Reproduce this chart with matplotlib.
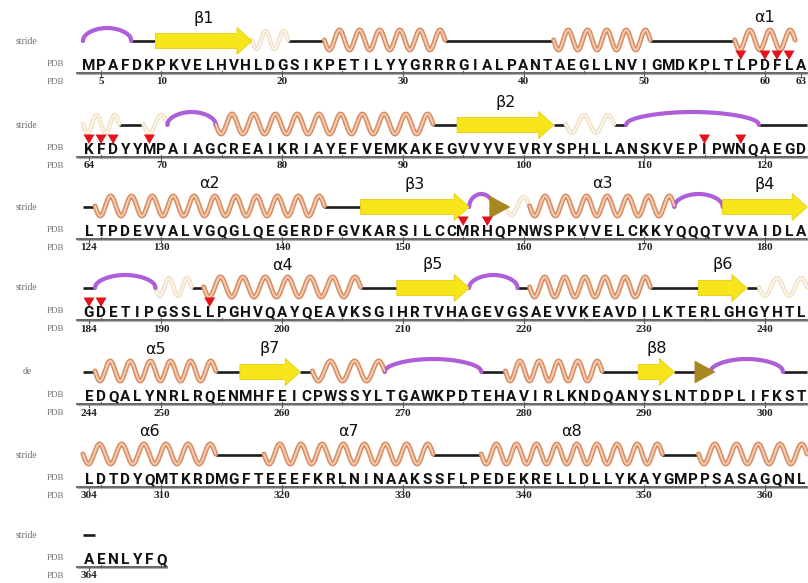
import numpy as np
import matplotlib
matplotlib.use("Agg")
import matplotlib.pyplot as plt
from matplotlib.patches import Polygon

# ---------------- data ----------------
row_starts = [4, 64, 124, 184, 244, 304, 364]
row_sequences = [
    "MPAFDKPKVELHVHLDGSIKPETILYYGRRRGIALPANTAEGLLNVIGMDKPLTLPDFLA",
    "KFDYYMPAIAGCREAIKRIAYEFVEMKAKEGVVYVEVRYSPHLLANSKVEPIPWNQAEGD",
    "LTPDEVVALVGQGLQEGERDFGVKARSILCCMRHQPNWSPKVVELCKKYQQQTVVAIDLA",
    "GDETIPGSSLLPGHVQAYQEAVKSGIHRTVHAGEVGSAEVVKEAVDILKTERLGHGYHTL",
    "EDQALYNRLRQENMHFEICPWSSYLTGAWKPDTEHAVIRLKNDQANYSLNTDDPLIFKST",
    "LDTDYQMTKRDMGFTEEEFKRLNINAAKSSFLPEDEKRELLDLLYKAYGMPPSASAGQNL",
    "AENLYFQ",
]
row_track_labels = ["stride", "stride", "stride", "stride", "de", "stride", "stride"]
row_tick_labels = [
    [5, 10, 20, 30, 40, 50, 60, 63],
    [64, 70, 80, 90, 100, 110, 120],
    [124, 130, 140, 150, 160, 170, 180],
    [184, 190, 200, 210, 220, 230, 240],
    [244, 250, 260, 270, 280, 290, 300],
    [304, 310, 320, 330, 340, 350, 360],
    [364],
]

helix_ranges = [(24, 33), (43, 50), (58, 62), (75, 92), (125, 143), (161, 172),
                (194, 206), (221, 230), (245, 254), (263, 268), (279, 286),
                (304, 314), (319, 332), (337, 351), (355, 363)]
helix_labels = ["", "", "α1", "", "α2", "α3", "α4", "", "α5", "", "",
                "α6", "α7", "α8", ""]
strand_ranges = [(10, 17), (95, 102), (147, 155), (177, 183), (210, 215),
                 (235, 238), (257, 261), (290, 292)]
strand_labels = ["β1", "β2", "β3", "β4", "β5", "β6", "β7", "β8"]
turn_ranges = [(4, 7), (71, 74), (109, 119), (156, 157), (173, 176),
               (185, 189), (216, 219), (269, 276), (296, 301)]
pale_helix_ranges = [(18, 20), (64, 66), (69, 70), (104, 107), (159, 160),
                     (190, 192), (240, 243)]
bridge_residues = [158, 295]
coil_ranges = [(8, 9), (21, 23), (34, 42), (51, 57), (67, 68), (93, 94),
               (103, 103), (108, 108), (120, 123), (124, 124), (144, 146),
               (184, 184), (193, 193), (207, 209), (220, 220), (231, 234),
               (239, 239), (244, 244), (255, 256), (262, 262), (277, 278),
               (287, 289), (293, 294), (302, 303), (315, 318), (333, 336),
               (352, 354), (364, 364)]
contact_residues = [58, 60, 61, 62, 64, 65, 66, 69, 115, 118, 155, 157,
                    184, 185, 194]

# ---------------- layout ----------------
W, H = 808, 583
X0, DX = 89.0, 12.07
track_y = [41, 125, 207, 288, 372, 455, 535]

fig = plt.figure(figsize=(W / 100, H / 100), dpi=100)
ax = fig.add_axes([0, 0, 1, 1])
ax.set_xlim(0, W)
ax.set_ylim(H, 0)
ax.axis("off")


def row_of(r):
    idx = 0
    for i, s in enumerate(row_starts):
        if r >= s:
            idx = i
    return idx


def xc(r):
    i = row_of(r)
    return X0 + (r - row_starts[i]) * DX


def span(a, b):
    return xc(a) - DX / 2, xc(b) + DX / 2, track_y[row_of(a)]


def wave(x1, x2, y, outer, inner, period=21.0, amp=10.0, z=3, lw=3.6):
    n = max(1, int(round((x2 - x1) / period)))
    t = np.linspace(0, 1, 300)
    xs = x1 + (x2 - x1) * t
    ys = y - 1 + amp * np.sin(2 * np.pi * n * t)
    ax.plot(xs, ys, color=outer, lw=lw, solid_capstyle="round", zorder=z)
    ax.plot(xs, ys, color=inner, lw=lw * 0.38, solid_capstyle="round", zorder=z + 0.1)


# coil
for a, b in coil_ranges:
    x1, x2, y = span(a, b)
    ax.plot([x1, x2], [y, y], color="#1c1c1c", lw=1.9, solid_capstyle="butt", zorder=2)

# helices
for (a, b), lab in zip(helix_ranges, helix_labels):
    x1, x2, y = span(a, b)
    wave(x1, x2, y, "#d58d66", "#f7cdae")
    if lab:
        ax.text((x1 + x2) / 2, y - 23, lab, ha="center", va="center",
                fontsize=11.5, color="#111111")

# pale helices
for a, b in pale_helix_ranges:
    x1, x2, y = span(a, b)
    wave(x1, x2, y, "#f1e0c6", "#fdf7ee", z=2.5, amp=9.0, lw=3.2)

# strands
for (a, b), lab in zip(strand_ranges, strand_labels):
    x1, x2, y = span(a, b)
    hl = min(15.0, (x2 - x1) * 0.45)
    bh, hh = 7.5, 13.5
    pts = [(x1, y - bh), (x2 - hl, y - bh), (x2 - hl, y - hh), (x2, y),
           (x2 - hl, y + hh), (x2 - hl, y + bh), (x1, y + bh)]
    ax.add_patch(Polygon(pts, closed=True, facecolor="#f7e51c",
                         edgecolor="#e6cf10", lw=0.6, zorder=5))
    ax.text((x1 + x2) / 2, y - 23, lab, ha="center", va="center",
            fontsize=11.5, color="#111111")

# turns
for a, b in turn_ranges:
    x1, x2, y = span(a, b)
    t = np.linspace(0, 1, 200)
    xs = x1 + (x2 - x1) * t
    ys = y - 13 * np.sin(np.pi * t) ** 0.45
    ax.plot(xs, ys, color="#ad5ed8", lw=3.0, solid_capstyle="round", zorder=3)

# bridges
for r in bridge_residues:
    x1, x2, y = span(r, r)
    pts = [(x1 - 4, y - 11.5), (x2 + 5, y), (x1 - 4, y + 11.5)]
    ax.add_patch(Polygon(pts, closed=True, facecolor="#a7871f",
                         edgecolor="none", zorder=5))

# contact triangles
for r in contact_residues:
    x = xc(r)
    y = track_y[row_of(r)] + 14
    pts = [(x - 5.5, y - 4.5), (x + 5.5, y - 4.5), (x, y + 5)]
    ax.add_patch(Polygon(pts, closed=True, facecolor="#e3121c",
                         edgecolor="none", zorder=7))

# sequence rows
for i, (start, seq) in enumerate(zip(row_starts, row_sequences)):
    ty = track_y[i]
    ly = ty + 23
    axy = ty + 31.5
    ny = ty + 41
    ax.text(27, ty, row_track_labels[i], ha="center", va="center",
            fontsize=7, color="#707070", family="Liberation Serif")
    ax.text(64, ly, "PDB", ha="right", va="center",
            fontsize=6.5, color="#707070", family="Liberation Serif")
    ax.text(64, ny, "PDB", ha="right", va="center",
            fontsize=6.5, color="#707070", family="Liberation Serif")
    for k, ch in enumerate(seq):
        ax.text(X0 + k * DX, ly + 6, ch, ha="center", va="baseline",
                fontsize=11, fontweight="bold", color="#111111",
                family="Roboto", zorder=6)
    end = start + len(seq) - 1
    xa = X0 - 12
    xb = xc(end) + DX / 2
    ax.plot([xa, xb], [axy, axy], color="#5a5a5a", lw=1.3, zorder=2)
    ax.plot([xa, xb], [axy + 1.5, axy + 1.5], color="#b0b0b0", lw=0.8, zorder=2)
    for r in range(start, end + 1):
        if r % 5 == 0:
            ax.plot([xc(r), xc(r)], [axy - 2, axy], color="#5a5a5a", lw=0.8, zorder=2)
    for lab in row_tick_labels[i]:
        ax.plot([xc(lab), xc(lab)], [axy + 1, axy + 3.5], color="#5a5a5a", lw=0.8)
        ax.text(xc(lab), ny, str(lab), ha="center", va="center",
                fontsize=8, fontweight="bold", color="#222222",
                family="Liberation Serif")

fig.savefig("out.png", dpi=100, facecolor="white")
